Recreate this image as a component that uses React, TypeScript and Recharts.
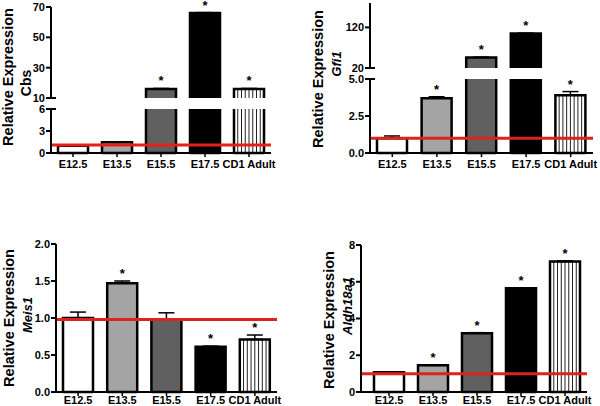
import { Bar, BarChart, ErrorBar, ReferenceLine, XAxis, YAxis } from "recharts";

const CATEGORIES = ["E12.5", "E13.5", "E15.5", "E17.5", "CD1 Adult"];

const CBS_MEAN = [1.0, 1.45, 16, 66, 16];
const CBS_SEM = [0.04, 0.08, 0.3, 0.3, 0.3];
const CBS_SIG = ["", "", "*", "*", "*"];

const GFI1_MEAN = [1.0, 3.7, 46, 105, 3.9];
const GFI1_SEM = [0.15, 0.1, 0.4, 0.4, 0.25];
const GFI1_SIG = ["", "*", "*", "*", "*"];

const MEIS1_MEAN = [1.0, 1.47, 0.98, 0.61, 0.71];
const MEIS1_SEM = [0.08, 0.03, 0.09, 0.01, 0.06];
const MEIS1_SIG = ["", "*", "", "*", "*"];

const ALDH_MEAN = [1.08, 1.45, 3.2, 5.65, 7.1];
const ALDH_SEM = [0.02, 0.02, 0.03, 0.02, 0.04];
const ALDH_SIG = ["", "*", "*", "*", "*"];

const FILLS = ["#ffffff", "#a4a4a4", "#606060", "#000000", "stripes"];
const RED = "#e3211c";
const FONT = "'Liberation Sans', Arial, Helvetica, sans-serif";

const TOP_PAD = 14;
const AXIS_W = 50;
const Y_TICK_SIZE = 5;
const Y_TICK_MARGIN = 1;

type Row = {
  name: string;
  value: number | null;
  err: [number, number] | null;
  star: string;
  cutTop: boolean;
};

// rows for one axis segment [lo, hi]; bars taller than hi are cut at the top
const buildRows = (mean: number[], sem: number[], sig: string[], lo: number, hi: number): Row[] =>
  CATEGORIES.map((name, i) => {
    const v = mean[i];
    if (v <= lo) return { name, value: null, err: null, star: "", cutTop: false };
    const cutTop = v > hi;
    return {
      name,
      value: Math.min(v, hi),
      err: cutTop ? null : [0, sem[i]],
      star: cutTop ? "" : sig[i],
      cutTop
    };
  });

const makeShape = (base: number, cutBottom: boolean) => (props: any) => {
  const { x, y, width, height, payload } = props;
  if (!payload || payload.value == null || !height) return <g />;
  const fill = FILLS[CATEGORIES.indexOf(payload.name)];
  const striped = fill === "stripes";
  const right = x + width;
  const bottom = y + height;
  let d = payload.cutTop
    ? `M${x},${y}L${x},${bottom}M${right},${y}L${right},${bottom}`
    : `M${x},${bottom}L${x},${y}L${right},${y}L${right},${bottom}`;
  if (!cutBottom) d += `M${x},${bottom}L${right},${bottom}`;
  const pxPerUnit = height / (payload.value - base);
  const errPx = payload.err ? payload.err[1] * pxPerUnit : 0;
  return (
    <g>
      <rect x={x} y={y} width={width} height={height} fill={striped ? "#fff" : fill} />
      {striped
        ? [1, 2, 3, 4, 5, 6, 7].map((k) => (
            <line key={k} x1={x + (width * k) / 8} x2={x + (width * k) / 8} y1={y} y2={bottom} stroke="#222" strokeWidth={1} />
          ))
        : null}
      <path d={d} fill="none" stroke="#000" strokeWidth={2.5} />
      {payload.star ? (
        <text x={x + width / 2} y={Math.max(y - errPx - 3, 13)} textAnchor="middle" fontSize={13} fontWeight="bold" fontFamily={FONT} fill="#000">
          {payload.star}
        </text>
      ) : null}
    </g>
  );
};

const makeYTick = (decimals: number, breakAt: number | null) => (props: any) => {
  const { x, y, payload } = props;
  const v = Number(payload.value);
  const axisX = x + Y_TICK_SIZE + Y_TICK_MARGIN;
  return (
    <g>
      <text x={x} y={y} dy="0.36em" textAnchor="end" fontSize={11} fontWeight="bold" fontFamily={FONT} fill="#000">
        {v.toFixed(decimals)}
      </text>
      {breakAt !== null && v === breakAt ? (
        <line x1={axisX} x2={axisX + 5} y1={y} y2={y} stroke="#000" strokeWidth={2} />
      ) : null}
    </g>
  );
};

type SegmentProps = {
  left: number;
  top: number;
  plotW: number;
  plotH: number;
  mean: number[];
  sem: number[];
  sig: string[];
  domain: [number, number];
  ticks: number[];
  decimals: number;
  breakAt: number | null;
  showX: boolean;
  refY?: number;
  padLeft?: number;
  xTickMargin?: number;
};

const Segment = (p: SegmentProps) => {
  const xHeight = p.showX ? 22 : 0;
  const bottomPad = p.showX ? 0 : 9;
  const width = AXIS_W + p.plotW + 12;
  const height = TOP_PAD + p.plotH + xHeight + bottomPad;
  const rows = buildRows(p.mean, p.sem, p.sig, p.domain[0], p.domain[1]);
  return (
    <div style={{ position: "absolute", left: p.left - AXIS_W, top: p.top - TOP_PAD }}>
      <BarChart width={width} height={height} data={rows} margin={{ top: TOP_PAD, right: 12, bottom: bottomPad, left: 0 }} barSize={30}>
        <XAxis
          dataKey="name"
          hide={!p.showX}
          height={xHeight}
          interval={0}
          padding={{ left: p.padLeft ?? 0, right: 0 }}
          axisLine={{ stroke: "#000", strokeWidth: 2 }}
          tickLine={{ stroke: "#000", strokeWidth: 1.5 }}
          tickSize={4}
          tickMargin={p.xTickMargin ?? 3}
          tick={{ fontSize: 11, fontWeight: "bold", fill: "#000", fontFamily: FONT }}
        />
        <YAxis
          type="number"
          width={AXIS_W}
          domain={p.domain}
          ticks={p.ticks}
          interval={0}
          axisLine={{ stroke: "#000", strokeWidth: 2 }}
          tickLine={{ stroke: "#000", strokeWidth: 2 }}
          tickSize={Y_TICK_SIZE}
          tickMargin={Y_TICK_MARGIN}
          tick={makeYTick(p.decimals, p.breakAt)}
        />
        <Bar dataKey="value" isAnimationActive={false} shape={makeShape(p.domain[0], p.domain[0] > 0)}>
          <ErrorBar dataKey="err" direction="y" width={8} stroke="#000" strokeWidth={1.5} />
        </Bar>
        {p.refY !== undefined ? <ReferenceLine y={p.refY} stroke={RED} strokeWidth={3} /> : null}
      </BarChart>
    </div>
  );
};

const LABELS = [
  { x: 12.5, y: 77, text: "Relative Expression", size: 14.5, italic: false },
  { x: 31, y: 83, text: "Cbs", size: 14, italic: false },
  { x: 322.5, y: 79, text: "Relative Expression", size: 14.5, italic: false },
  { x: 341, y: 64, text: "Gfi1", size: 13, italic: true },
  { x: 14, y: 318, text: "Relative Expression", size: 14.5, italic: false },
  { x: 32, y: 315, text: "Meis1", size: 13, italic: true },
  { x: 334, y: 320, text: "Relative Expression", size: 14.5, italic: false },
  { x: 352, y: 306, text: "Aldh18a1", size: 13, italic: true }
];

export default function App() {
  return (
    <div style={{ position: "absolute", left: 0, top: 0, width: 600, height: 406, background: "#fff", overflow: "hidden", fontFamily: FONT }}>
      <svg width={600} height={406} style={{ position: "absolute", left: 0, top: 0 }}>
        {LABELS.map((l) => (
          <text
            key={l.text + l.x}
            x={l.x}
            y={l.y}
            transform={`rotate(-90 ${l.x} ${l.y})`}
            textAnchor="middle"
            fontSize={l.size}
            fontWeight="bold"
            fontStyle={l.italic ? "italic" : "normal"}
            fontFamily={FONT}
            fill="#000"
          >
            {l.text}
          </text>
        ))}
      </svg>

      {/* Cbs: broken axis */}
      <Segment left={51} top={7} plotW={220} plotH={91} mean={CBS_MEAN} sem={CBS_SEM} sig={CBS_SIG}
        domain={[10, 70]} ticks={[10, 30, 50, 70]} decimals={0} breakAt={10} showX={false} />
      <Segment left={51} top={109} plotW={220} plotH={44} mean={CBS_MEAN} sem={CBS_SEM} sig={CBS_SIG}
        domain={[0, 6]} ticks={[0, 3, 6]} decimals={0} breakAt={6} showX refY={1.1} />

      {/* Gfi1: broken axis */}
      <Segment left={370} top={3} plotW={223} plotH={65} mean={GFI1_MEAN} sem={GFI1_SEM} sig={GFI1_SIG}
        domain={[20, 180]} ticks={[20, 120]} decimals={0} breakAt={20} showX={false} />
      <Segment left={370} top={79} plotW={223} plotH={74} mean={GFI1_MEAN} sem={GFI1_SEM} sig={GFI1_SIG}
        domain={[0, 5]} ticks={[0, 2.5, 5]} decimals={1} breakAt={5} showX refY={1} />

      {/* Meis1 */}
      <Segment left={56} top={244} plotW={221} plotH={148} mean={MEIS1_MEAN} sem={MEIS1_SEM} sig={MEIS1_SIG}
        domain={[0, 2]} ticks={[0, 0.5, 1, 1.5, 2]} decimals={1} breakAt={null} showX refY={0.98} xTickMargin={0} />

      {/* Aldh18a1 */}
      <Segment left={361} top={245} plotW={226} plotH={147} mean={ALDH_MEAN} sem={ALDH_SEM} sig={ALDH_SIG}
        domain={[0, 8]} ticks={[0, 2, 4, 6, 8]} decimals={0} breakAt={null} showX refY={1} padLeft={6} xTickMargin={0} />
    </div>
  );
}
